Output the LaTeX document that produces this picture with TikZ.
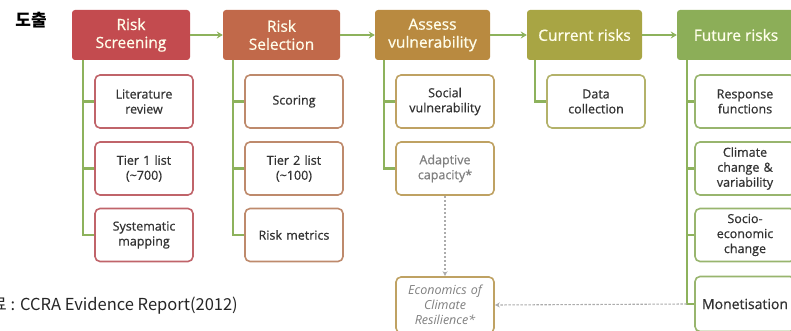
\documentclass[tikz,border=0pt]{standalone}
\usepackage{fontspec}
\setmainfont{Open Sans}
\newfontfamily\semi[FakeBold=0.7]{Open Sans}
\newfontfamily\kr{Noto Sans CJK KR}
\usetikzlibrary{arrows.meta}

\definecolor{cScr}{HTML}{C34B4F}
\definecolor{cSel}{HTML}{C1694A}
\definecolor{cVul}{HTML}{B98A40}
\definecolor{cCur}{HTML}{A8A544}
\definecolor{cFut}{HTML}{8CAE58}
\definecolor{bScr}{HTML}{C0646A}
\definecolor{bSel}{HTML}{BE8A6C}
\definecolor{bVul}{HTML}{BFA263}
\definecolor{bCur}{HTML}{B3B26A}
\definecolor{bFut}{HTML}{98B56E}
\definecolor{cTrunk}{HTML}{8DB25C}
\definecolor{cTxt}{HTML}{333333}

\begin{document}
\begin{tikzpicture}[x=1pt, y=1pt,
  head/.style={rounded corners=3pt, minimum height=50pt, inner sep=1pt,
    text=white!92!yellow, align=center, font=\semi\fontsize{15.5}{18}\selectfont},
  sub/.style={draw=#1, fill=white, line width=1.6pt, rounded corners=5pt,
    minimum width=98pt, minimum height=53pt, inner sep=1pt, text width=94pt,
    align=center, text=cTxt, font=\semi\fontsize{12.5}{15}\selectfont},
  flow/.style={cTrunk, line width=2.2pt, -{Stealth[length=6pt, width=7pt]}},
  trunk/.style={cTrunk, line width=2.6pt},
  cost/.style={gray!65, line width=1.1pt, dash pattern=on 2.5pt off 1.5pt,
    -{Stealth[length=5pt, width=5pt, open]}}]

\useasboundingbox (0,0) rectangle (791,-331);

% titles
\node [font=\kr\bfseries\fontsize{17}{18}\selectfont] (ttl) at (31,-20) {도출};
\node [font=\kr\fontsize{16.5}{18}\selectfont, text=black!85, anchor=east, inner sep=0pt]
  (src) at (238,-306) {자료 : CCRA Evidence Report(2012)};

% top row
\node [head, fill=cScr, minimum width=118pt] (rs) at (131,-35) {Risk\\Screening};
\node [head, fill=cSel, minimum width=117pt] (rsel) at (281.5,-35) {Risk\\Selection};
\node [head, fill=cVul, minimum width=115pt] (av) at (432.5,-35) {Assess\\vulnerability};
\node [head, fill=cCur, minimum width=115pt] (cr) at (584.5,-35) {Current risks};
\node [head, fill=cFut, minimum width=118pt] (fr) at (736,-35) {Future risks};

\draw [flow] (rs) -- (rsel);
\draw [flow] (rsel) -- (av);
\draw [flow] (av) -- (cr);
\draw [flow] (cr) -- (fr);

% trunk points
\coordinate (k1) at ([xshift=11pt]rs.south west);
\coordinate (k2) at ([xshift=10pt]rsel.south west);
\coordinate (k3) at ([xshift=9pt]av.south west);
\coordinate (k4) at ([xshift=8pt]cr.south west);
\coordinate (k5) at ([xshift=10pt]fr.south west);

% risk screening
\node [sub=bScr] (a1) at (144,-101.5) {Literature\\review};
\node [sub=bScr] (a2) at (144,-168.5) {Tier 1 list\\(\char`\~700)};
\node [sub=bScr] (a3) at (144,-235) {Systematic\\mapping};

% risk selection
\node [sub=bSel] (b1) at (294,-101.5) {Scoring};
\node [sub=bSel] (b2) at (294,-168.5) {Tier 2 list\\(\char`\~100)};
\node [sub=bSel] (b3) at (294,-235) {Risk metrics};

% vulnerability
\node [sub=bVul] (c1) at (445,-101.5) {Social\\vulnerability};
\node [sub=bVul, text=gray] (c2) at (445,-168.5) {Adaptive\\capacity*};
\node [sub=bVul, text=gray, font=\itshape\fontsize{12.5}{15}\selectfont,
  minimum height=56pt] (ecr) at (445,-305) {Economics of\\Climate\\Resilience*};

% current risks
\node [sub=bCur] (d1) at (596,-101.5) {Data\\collection};

% future risks
\node [sub=bFut, minimum width=100pt] (f1) at (745,-101.5) {Response\\functions};
\node [sub=bFut, minimum width=100pt] (f2) at (745,-168.5) {Climate\\change \&\\variability};
\node [sub=bFut, minimum width=100pt] (f3) at (745,-235) {Socio-\\economic\\change};
\node [sub=bFut, minimum width=100pt, minimum height=55pt,
  font=\semi\fontsize{14}{16}\selectfont] (f4) at (745,-304) {Monetisation};

% trunks
\draw [trunk] (k1) |- (a3.west);
\draw [trunk] (a1.west) -- (a1.west -| k1);
\draw [trunk] (a2.west) -- (a2.west -| k1);
\draw [trunk] (k2) |- (b3.west);
\draw [trunk] (b1.west) -- (b1.west -| k2);
\draw [trunk] (b2.west) -- (b2.west -| k2);
\draw [trunk] (k3) |- (c2.west);
\draw [trunk] (c1.west) -- (c1.west -| k3);
\draw [trunk] (k4) |- (d1.west);
\draw [trunk] (k5) |- (f4.west);
\draw [trunk] (f1.west) -- (f1.west -| k5);
\draw [trunk] (f2.west) -- (f2.west -| k5);
\draw [trunk] (f3.west) -- (f3.west -| k5);

% cost links
\draw [cost] (c2) -- (ecr);
\draw [cost] (k5 |- f4.west) -- (ecr.east);

\end{tikzpicture}
\end{document}
